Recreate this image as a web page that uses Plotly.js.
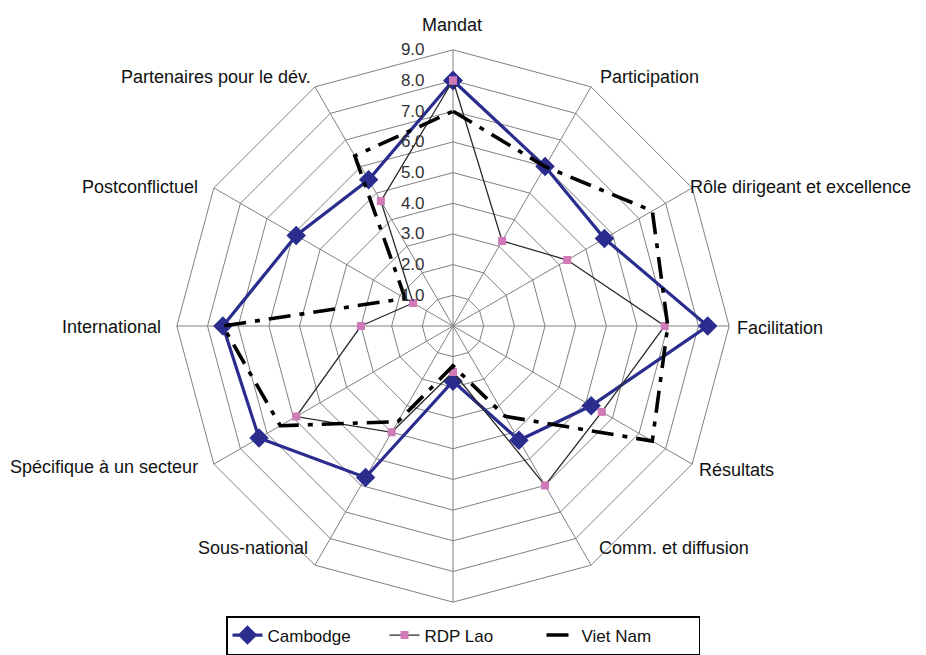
<!DOCTYPE html>
<html>
<head>
<meta charset="utf-8">
<script src="https://cdn.plot.ly/plotly-3.0.1.min.js"></script>
<style>html,body{margin:0;padding:0;background:#fff;}#chart{width:926px;height:655px;}</style>
</head>
<body>
<div id="chart"></div>
<script>
const categories = ["Mandat", "Participation", "Rôle dirigeant et excellence", "Facilitation", "Résultats", "Comm. et diffusion", " ", "Sous-national", "Spécifique à un secteur", "International", "Postconflictuel", "Partenaires pour le dév."];
const cambodge = [8.0, 6.0, 5.7, 8.3, 5.2, 4.3, 1.8, 5.7, 7.3, 7.5, 5.9, 5.5];
const lao = [8.0, 3.2, 4.3, 6.9, 5.6, 6.0, 1.5, 4.0, 5.9, 3.0, 1.5, 4.7];
const vietnam = [7.0, 6.0, 7.5, 7.0, 7.5, 3.4, 1.3, 3.6, 6.5, 7.5, 1.8, 6.4];
const seriesNames = ["Cambodge", "RDP Lao", "Viet Nam"];
const radialTicks = [1, 2, 3, 4, 5, 6, 7, 8, 9];

function closed(arr) { return arr.concat([arr[0]]); }
const thetaClosed = closed(categories);

const FONT = "Arial, 'Liberation Sans', sans-serif";
const W = 926, H = 655;

// Category label placement (pixel anchor, layout only), same order as categories
const labelPlacement = [
  {px: 452, py: 25, xa: "center"},
  {px: 598, py: 77, xa: "left"},
  {px: 688, py: 188, xa: "left"},
  {px: 735, py: 329, xa: "left"},
  {px: 697, py: 471, xa: "left"},
  {px: 597, py: 550, xa: "left"},
  null,
  {px: 310, py: 550, xa: "right"},
  {px: 200, py: 468, xa: "right"},
  {px: 163, py: 328, xa: "right"},
  {px: 200, py: 188, xa: "right"},
  {px: 313, py: 77, xa: "right"}
];

const annotations = [];
categories.forEach(function (c, i) {
  const p = labelPlacement[i];
  if (!p) return;
  annotations.push({
    text: c, xref: "paper", yref: "paper",
    x: p.px / W, y: 1 - p.py / H, xanchor: p.xa, yanchor: "middle",
    showarrow: false, font: {family: FONT, size: 18, color: "#111"}
  });
});

const traces = [
  {
    type: "scatterpolar", name: seriesNames[0],
    r: closed(cambodge), theta: thetaClosed, mode: "lines+markers",
    line: {color: "#2b2d8e", width: 3.2},
    marker: {symbol: "diamond", size: 15, color: "#2b2d8e"}
  },
  {
    type: "scatterpolar", name: seriesNames[1],
    r: closed(lao), theta: thetaClosed, mode: "lines+markers",
    line: {color: "#2a2a2a", width: 1.3},
    marker: {symbol: "square", size: 8, color: "#d07ab8"}
  },
  {
    type: "scatterpolar", name: seriesNames[2],
    r: closed(vietnam), theta: thetaClosed, mode: "lines",
    line: {color: "#000000", width: 3.6, dash: "22px,9px,5px,9px"}
  }
];

const layout = {
  width: W, height: H,
  margin: {l: 0, r: 0, t: 0, b: 0},
  paper_bgcolor: "#ffffff",
  font: {family: FONT, size: 17, color: "#111"},
  showlegend: true,
  annotations: annotations,
  legend: {
    orientation: "h", x: 0.5, xanchor: "center", y: 0.0565, yanchor: "top",
    bordercolor: "#000", borderwidth: 1.5, bgcolor: "#fff",
    entrywidth: 112,
    font: {family: FONT, size: 17, color: "#111"}
  },
  polar: {
    domain: {x: [176/W, 730/W], y: [51/H, 605/H]},
    bgcolor: "#ffffff",
    gridshape: "linear",
    angularaxis: {
      rotation: 90, direction: "clockwise",
      showline: true, linecolor: "#808080", linewidth: 1,
      gridcolor: "#808080", gridwidth: 1,
      ticks: "", showticklabels: false
    },
    radialaxis: {
      range: [0, 9], angle: 90, side: "counterclockwise",
      tickvals: radialTicks, tickformat: ".1f",
      showline: false,
      ticks: "outside", ticklen: 22, tickcolor: "rgba(0,0,0,0)",
      gridcolor: "#808080", gridwidth: 1,
      tickangle: 90,
      tickfont: {family: FONT, size: 17, color: "#333"}
    }
  }
};

Plotly.newPlot("chart", traces, layout, {displayModeBar: false, staticPlot: true});
</script>
</body>
</html>
